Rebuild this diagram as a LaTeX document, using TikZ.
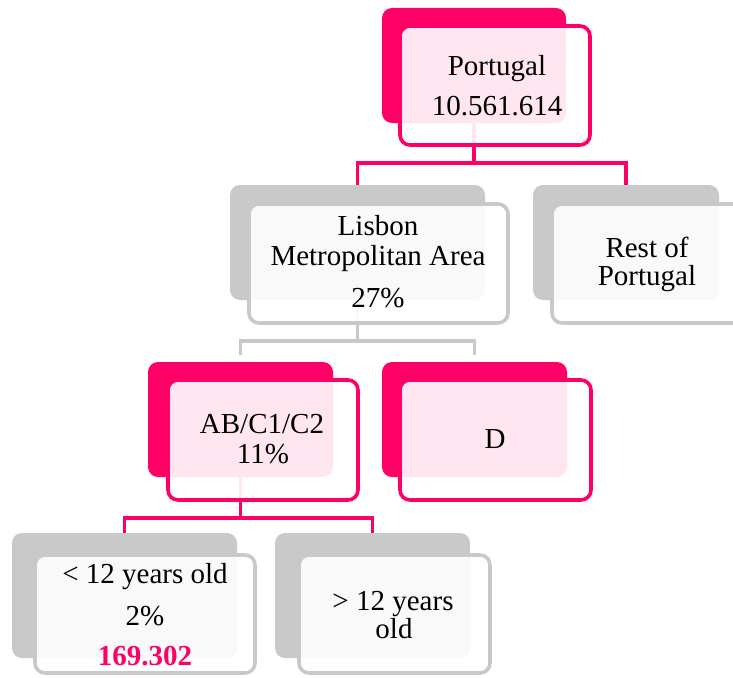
\documentclass[tikz,border=0pt]{standalone}
\usepackage{fontspec}
\setmainfont{Liberation Serif}
\definecolor{hpink}{HTML}{FF0066}
\definecolor{hgrey}{HTML}{C9C9C9}
\tikzset{
  backbox/.style={rectangle, rounded corners=10pt, inner sep=0pt, outer sep=0pt},
  pinkback/.style={backbox, fill=hpink},
  greyback/.style={backbox, fill=hgrey},
  frontbox/.style={rectangle, rounded corners=10pt, inner sep=0pt, outer sep=0pt,
    line width=3.6pt, fill=white, fill opacity=0.9, draw opacity=1},
  pinkfront/.style={frontbox, draw=hpink},
  greyfront/.style={frontbox, draw=hgrey},
  pinkline/.style={draw=hpink, line width=3.6pt},
  greyline/.style={draw=hgrey, line width=3.6pt},
  txt/.style={anchor=base, inner sep=0pt, font=\fontsize{29}{34}\selectfont, text=black},
  boldtxt/.style={txt, font=\fontsize{29}{34}\selectfont\bfseries, text=hpink}
}
\begin{document}
\begin{tikzpicture}[x=1pt,y=-1pt]
\useasboundingbox (0,0) rectangle (733,677);
% back shapes
\node[pinkback, minimum width=184pt, minimum height=115pt] (pb) at (474,65.5) {};
\node[greyback, minimum width=255pt, minimum height=115pt] (lb) at (357.5,242.5) {};
\node[greyback, minimum width=186pt, minimum height=115pt] (rb) at (626,242.5) {};
\node[pinkback, minimum width=185pt, minimum height=115pt] (ab) at (240.5,419.5) {};
\node[pinkback, minimum width=185pt, minimum height=115pt] (db) at (474.5,419.5) {};
\node[greyback, minimum width=225pt, minimum height=125pt] (yb) at (124.5,595.5) {};
\node[greyback, minimum width=195pt, minimum height=125pt] (ob) at (372.5,595.5) {};
% connectors
\draw[pinkline] (pb.south) -- ++(0,40) -| (lb.north);
\draw[pinkline] (pb.south) -- ++(0,40) -| (rb.north);
\draw[greyline] (lb.south) -- ++(0,41) -| ([yshift=7pt]ab.north);
\draw[greyline] (lb.south) -- ++(0,41) -| ([yshift=7pt]db.north);
\draw[pinkline] (ab.south) -- ++(0,41) -| (yb.north);
\draw[pinkline] (ab.south) -- ++(0,41) -| (ob.north);
% front shapes
\node[pinkfront, minimum width=190pt, minimum height=119pt] (pf) at (495,85.5) {};
\node[greyfront, minimum width=259pt, minimum height=119pt] (lf) at (378.5,263.5) {};
\node[greyfront, minimum width=191pt, minimum height=119pt] (rf) at (647.5,263.5) {};
\node[pinkfront, minimum width=190pt, minimum height=120pt] (af) at (263,440) {};
\node[pinkfront, minimum width=191pt, minimum height=120pt] (df) at (495.5,440) {};
\node[greyfront, minimum width=220pt, minimum height=118pt] (yf) at (145,614) {};
\node[greyfront, minimum width=191pt, minimum height=118pt] (of) at (394.5,614) {};
% texts
\node[txt] (t1) at (497,75) {Portugal};
\node[txt] (t2) at (497,115) {10.561.614};
\node[txt] (t3) at (378,235) {Lisbon};
\node[txt] (t4) at (378,265) {Metropolitan Area};
\node[txt] (t5) at (378,307) {27\%};
\node[txt] (t6) at (647,257) {Rest of};
\node[txt] (t7) at (647,285) {Portugal};
\node[txt] (t8) at (262,433) {AB/C1/C2};
\node[txt] (t9) at (263,463) {11\%};
\node[txt] (t10) at (495,448) {D};
\node[txt] (t11) at (145,583) {< 12 years old};
\node[txt] (t12) at (145,625) {2\%};
\node[boldtxt] (t13) at (145,665) {169.302};
\node[txt] (t14) at (393,610) {> 12 years};
\node[txt] (t15) at (394,638) {old};
\end{tikzpicture}
\end{document}
